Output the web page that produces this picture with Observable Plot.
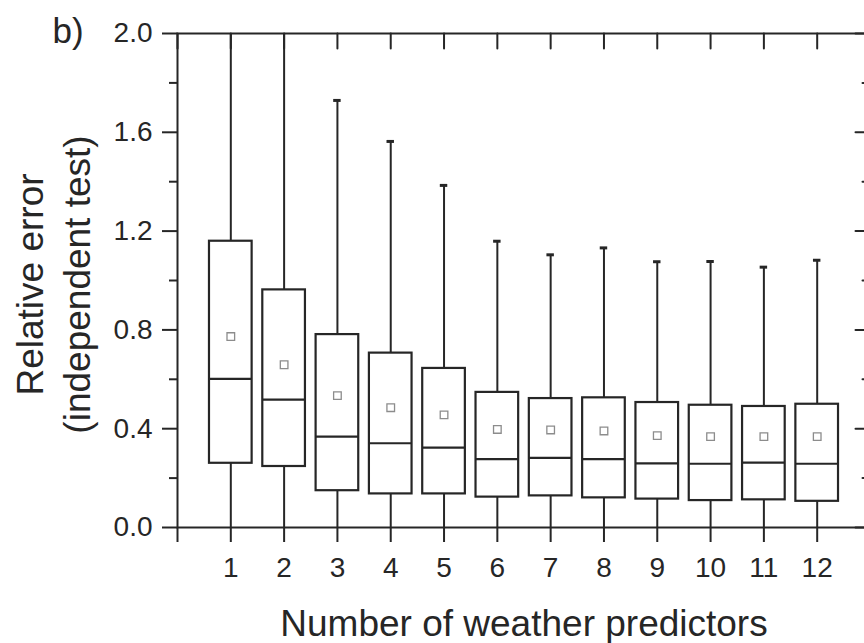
<!DOCTYPE html>
<html>
<head>
<meta charset="utf-8">
<script src="https://cdn.jsdelivr.net/npm/d3@7"></script>
<script src="https://cdn.jsdelivr.net/npm/@observablehq/plot@0.6"></script>
<style>
  body { margin: 0; background: #fff; }
</style>
</head>
<body>
<div id="chart"></div>
<script>
// ---- data ----
const predictors = [1, 2, 3, 4, 5, 6, 7, 8, 9, 10, 11, 12];
const whiskerLow = [0, 0, 0, 0, 0, 0, 0, 0, 0, 0, 0, 0];
const q1 = [0.260, 0.247, 0.149, 0.136, 0.136, 0.123, 0.128, 0.120, 0.115, 0.109, 0.112, 0.106];
const median = [0.602, 0.518, 0.368, 0.341, 0.323, 0.277, 0.282, 0.277, 0.260, 0.258, 0.263, 0.258];
const q3 = [1.159, 0.962, 0.781, 0.706, 0.644, 0.547, 0.522, 0.525, 0.506, 0.495, 0.490, 0.499];
const mean = [0.773, 0.659, 0.534, 0.485, 0.456, 0.397, 0.395, 0.391, 0.372, 0.368, 0.368, 0.368];
const whiskerHigh = [2.0, 2.0, 1.729, 1.563, 1.385, 1.159, 1.104, 1.132, 1.076, 1.077, 1.054, 1.082];

const yMajorTicks = [0, 0.4, 0.8, 1.2, 1.6, 2.0];
const yMinorTicks = [0.2, 0.6, 1.0, 1.4, 1.8];
const xTicks = [0, 1, 2, 3, 4, 5, 6, 7, 8, 9, 10, 11, 12, 13];

const panelLabel = "b)";
const xTitle = "Number of weather predictors";
const yTitle1 = "Relative error";
const yTitle2 = "(independent test)";

const rows = predictors.map((n, i) => ({
  n, lo: whiskerLow[i], q1: q1[i], median: median[i], q3: q3[i], mean: mean[i], hi: whiskerHigh[i]
}));

const ink = "#262626";
const halfBox = 0.4;
const halfCap = 0.07;
const tickShape = { draw(ctx, l) { ctx.moveTo(0, 0); ctx.lineTo(0, -l); } };
const font = "'Liberation Sans', Arial, Helvetica, sans-serif";

const chart = Plot.plot({
  width: 864,
  height: 643,
  marginLeft: 177,
  marginRight: -6,
  marginTop: 33,
  marginBottom: 116,
  x: { domain: [0, 13] },
  y: { domain: [0, 2] },
  style: { fontFamily: font, color: ink, background: "#fff", overflow: "visible" },
  marks: [
    // whiskers
    Plot.ruleX(rows, { x: "n", y1: "lo", y2: "q1", stroke: ink, strokeWidth: 2 }),
    Plot.ruleX(rows, { x: "n", y1: "q3", y2: "hi", stroke: ink, strokeWidth: 2 }),
    Plot.ruleY(rows.filter(d => d.hi < 2), { y: "hi", x1: d => d.n - halfCap, x2: d => d.n + halfCap, stroke: ink, strokeWidth: 3 }),
    // boxes
    Plot.rect(rows, { x1: d => d.n - halfBox, x2: d => d.n + halfBox, y1: "q1", y2: "q3", fill: "#fff", stroke: ink, strokeWidth: 2.2 }),
    Plot.ruleY(rows, { y: "median", x1: d => d.n - halfBox, x2: d => d.n + halfBox, stroke: ink, strokeWidth: 2.2 }),
    // means
    Plot.dot(rows, { x: "n", y: "mean", symbol: "square", r: 4.3, fill: "none", stroke: "#8c8c8c", strokeWidth: 1.3 }),
    // frame
    Plot.frame({ stroke: ink, strokeWidth: 2 }),
    // left axis
    Plot.axisY(yMajorTicks, { anchor: "left", tickSize: 15, tickPadding: 10, tickFormat: d3.format(".1f"), fontSize: 28, strokeWidth: 2, label: null, fill: ink }),
    Plot.axisY(yMinorTicks, { anchor: "left", tickSize: 8, tickFormat: () => "", strokeWidth: 2, label: null }),
    // bottom axis
    Plot.axisX(xTicks, { anchor: "bottom", tickSize: 15, tickPadding: 15, tickFormat: d => (d >= 1 && d <= 12 ? String(d) : ""), fontSize: 28, strokeWidth: 2, label: null, fill: ink }),
    // inward ticks on right and top
    Plot.vector(yMajorTicks, { y: d => d, frameAnchor: "right", rotate: -90, length: 15, anchor: "start", shape: tickShape, stroke: ink, strokeWidth: 2 }),
    Plot.vector(yMinorTicks, { y: d => d, frameAnchor: "right", rotate: -90, length: 8, anchor: "start", shape: tickShape, stroke: ink, strokeWidth: 2 }),
    Plot.vector(xTicks, { x: d => d, frameAnchor: "top", rotate: 180, length: 15, anchor: "start", shape: tickShape, stroke: ink, strokeWidth: 2 }),
    // titles
    Plot.text([yTitle1], { text: d => d, frameAnchor: "left", dx: -135, dy: 4, rotate: -90, textAnchor: "middle", lineAnchor: "bottom", fontSize: 37, fill: ink }),
    Plot.text([yTitle2], { text: d => d, frameAnchor: "left", dx: -88, dy: 4, rotate: -90, textAnchor: "middle", lineAnchor: "bottom", fontSize: 37, fill: ink }),
    Plot.text([xTitle], { text: d => d, frameAnchor: "bottom", dy: 108, textAnchor: "middle", lineAnchor: "bottom", fontSize: 37, fill: ink }),
    Plot.text([panelLabel], { text: d => d, frameAnchor: "top-left", dx: -125, dy: 9, textAnchor: "start", lineAnchor: "bottom", fontSize: 35, fill: ink })
  ]
});

document.getElementById("chart").appendChild(chart);
</script>
</body>
</html>
